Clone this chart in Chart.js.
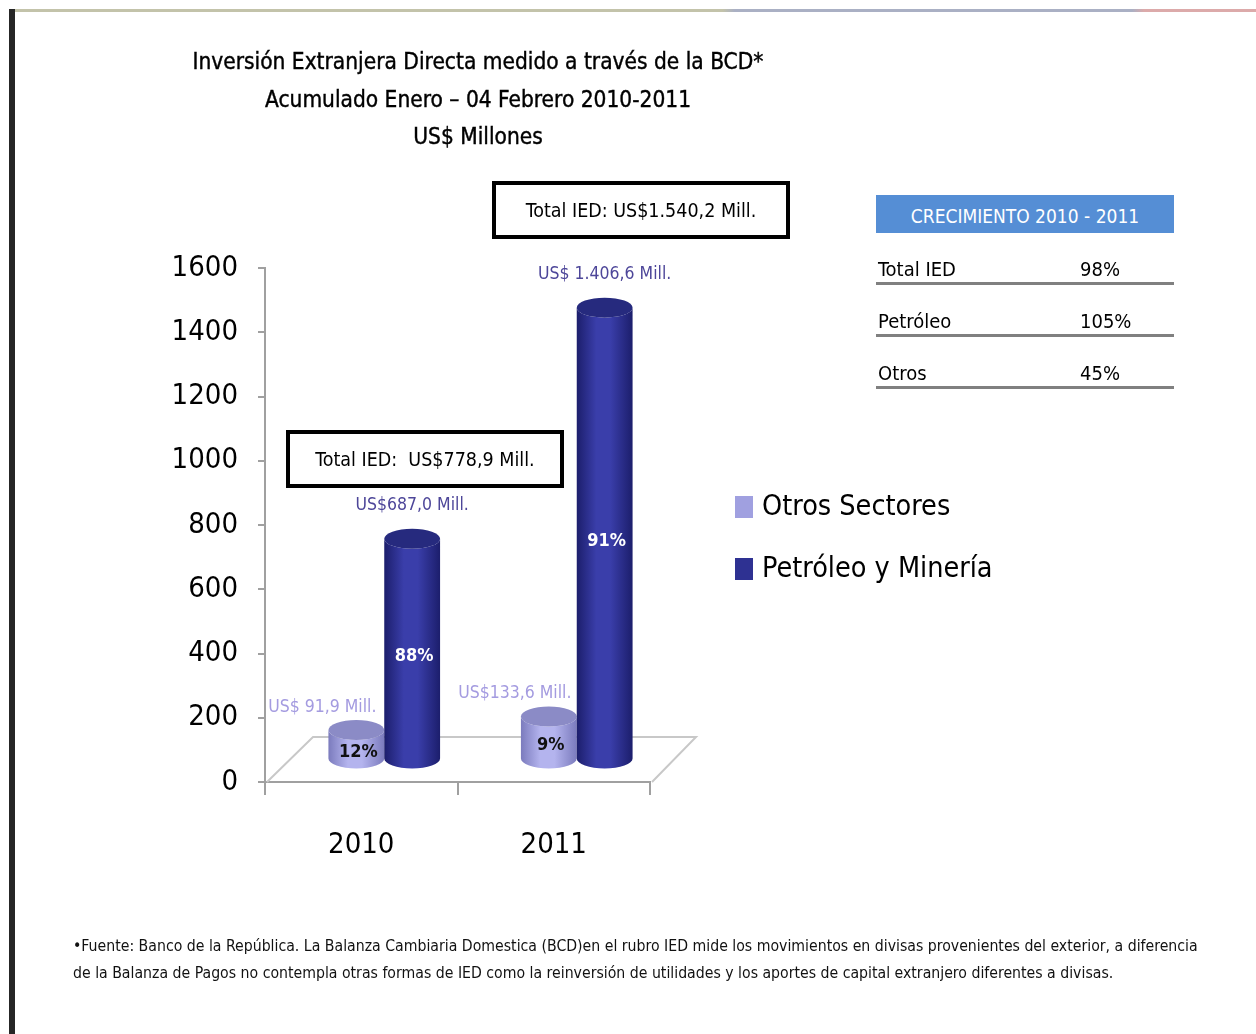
<!DOCTYPE html>
<html>
<head>
<meta charset="utf-8">
<script src="https://cdn.jsdelivr.net/npm/chart.js@4/dist/chart.umd.min.js"></script>
<style>
  body{margin:0;width:1256px;height:1034px;background:#fff;position:relative;overflow:hidden;
    font-family:"Liberation Sans Narrow","DejaVu Sans Condensed",sans-serif;color:#000}
  #topline{position:absolute;left:15px;top:9px;width:1241px;height:3px;
    background:linear-gradient(to right,#c3c3aa 0%,#c3c3aa 57%,#aab0c4 58%,#aab0c4 90%,#dcaaaa 91%,#dcaaaa 100%)}
  #leftbar{position:absolute;left:9px;top:9px;width:6px;height:1025px;background:#262626}
  #chart{position:absolute;left:0;top:0}
  .title{position:absolute;left:0;width:956px;text-align:center;font-size:22.5px;line-height:30px;-webkit-text-stroke:0.4px #000}
  .box{position:absolute;border:4px solid #000;box-sizing:border-box;text-align:center;font-size:19.5px}
  #growth{position:absolute;left:876px;top:195px;width:298px}
  #growth .head{background:#558ed5;color:#fff;height:38px;line-height:42px;text-align:center;font-size:19px}
  #growth .row{position:relative;height:52px;border-bottom:3px solid #808080;box-sizing:border-box;font-size:20px}
  #growth .row span{position:absolute;bottom:0;line-height:26px}
  .note{position:absolute;left:73px;font-size:15.7px;line-height:20px;color:#111;white-space:nowrap}
</style>
</head>
<body>
<div id="topline"></div>
<div id="leftbar"></div>
<canvas id="chart" width="1256" height="1034"></canvas>

<div class="title" style="top:46px">Inversión Extranjera Directa medido a través de la BCD*</div>
<div class="title" style="top:84px">Acumulado Enero – 04 Febrero 2010-2011</div>
<div class="title" style="top:121px">US$ Millones</div>

<div class="box" style="left:492px;top:181px;width:298px;height:58px;line-height:52px">Total IED: US$1.540,2 Mill.</div>
<div class="box" style="left:286px;top:430px;width:278px;height:58px;line-height:52px">Total IED:&nbsp; US$778,9 Mill.</div>

<div id="growth">
  <div class="head">CRECIMIENTO 2010 - 2011</div>
  <div class="row"><span style="left:2px">Total IED</span><span style="left:204px">98%</span></div>
  <div class="row"><span style="left:2px">Petróleo</span><span style="left:204px">105%</span></div>
  <div class="row"><span style="left:2px">Otros</span><span style="left:204px">45%</span></div>
</div>

<div class="note" style="top:936px">•Fuente: Banco de la República. La Balanza Cambiaria Domestica (BCD)en el rubro IED mide los movimientos en divisas provenientes del exterior, a diferencia</div>
<div class="note" style="top:963px">de la Balanza de Pagos no contempla otras formas de IED como la reinversión de utilidades y los aportes de capital extranjero diferentes a divisas.</div>

<script>
// data
const years = ['2010', '2011'];
const otros = [91.9, 133.6];
const petroleo = [687.0, 1406.6];
const otrosLabels = ['US$ 91,9 Mill.', 'US$133,6 Mill.'];
const petroleoLabels = ['US$687,0 Mill.', 'US$ 1.406,6 Mill.'];
const otrosPct = ['12%', '9%'];
const petroleoPct = ['88%', '91%'];
const yTicks = [0, 200, 400, 600, 800, 1000, 1200, 1400, 1600];

const FONT = '"Liberation Sans Narrow","DejaVu Sans Condensed",sans-serif';
const DEPTH_X = 46, DEPTH_Y = 45;

const styles = [
  {edge:'#7b7bbd', light:'#b4b4ee', top:'#8b8bc6', label:'#a49be0', pctColor:'#111', labelDx:-34, labelDy:-23, labels:otrosLabels, pct:otrosPct},
  {edge:'#1c1e6c', light:'#3a3eaa', top:'#262a7e', label:'#4d4699', pctColor:'#fff', labelDx:0, labelDy:-33, labels:petroleoLabels, pct:petroleoPct}
];

function cylinder(ctx, cx, topY, baseY, hw, ry, st){
  const g = ctx.createLinearGradient(cx-hw, 0, cx+hw, 0);
  g.addColorStop(0, st.edge);
  g.addColorStop(0.35, st.light);
  g.addColorStop(0.6, st.light);
  g.addColorStop(1, st.edge);
  ctx.beginPath();
  ctx.moveTo(cx-hw, topY);
  ctx.lineTo(cx-hw, baseY);
  ctx.ellipse(cx, baseY, hw, ry, 0, Math.PI, 0, true);
  ctx.lineTo(cx+hw, topY);
  ctx.ellipse(cx, topY, hw, ry, 0, 0, Math.PI, false);
  ctx.closePath();
  ctx.fillStyle = g;
  ctx.fill();
  ctx.beginPath();
  ctx.ellipse(cx, topY, hw, ry, 0, 0, Math.PI*2);
  ctx.fillStyle = st.top;
  ctx.fill();
}

const cylinders = {
  id:'cylinders',
  beforeDatasetsDraw(chart){
    const ctx = chart.ctx, a = chart.chartArea;
    // floor
    ctx.save();
    ctx.beginPath();
    ctx.moveTo(a.left+2, a.bottom);
    ctx.lineTo(a.left+2+DEPTH_X, a.bottom-DEPTH_Y);
    ctx.lineTo(a.right+DEPTH_X, a.bottom-DEPTH_Y);
    ctx.lineTo(a.right+2, a.bottom);
    ctx.strokeStyle = '#c8c8c8';
    ctx.lineWidth = 2;
    ctx.stroke();

    const dx = DEPTH_X/2, dy = DEPTH_Y/2;
    chart.data.datasets.forEach((ds, di) => {
      const st = styles[di];
      chart.getDatasetMeta(di).data.forEach((bar, i) => {
        const hw = bar.width/2;
        const cx = bar.x + dx;
        const topY = bar.y - dy;
        const baseY = bar.base - dy;
        cylinder(ctx, cx, topY, baseY, hw, 10, st);
        ctx.textAlign = 'center';
        ctx.textBaseline = 'middle';
        ctx.font = '17.5px ' + FONT;
        ctx.fillStyle = st.label;
        ctx.fillText(st.labels[i], cx + st.labelDx, topY + st.labelDy);
        ctx.font = 'bold 18px ' + FONT;
        ctx.fillStyle = st.pctColor;
        ctx.fillText(st.pct[i], cx + 2, (topY + baseY)/2 + 8);
      });
    });
    ctx.restore();
    return false;
  },
  afterDraw(chart){
    const ctx = chart.ctx;
    ctx.save();
    ctx.textAlign = 'left';
    ctx.textBaseline = 'middle';
    ctx.font = '28.5px ' + FONT;
    chart.data.datasets.forEach((ds, di) => {
      const y = 507 + di*62;
      ctx.fillStyle = ds.backgroundColor;
      ctx.fillRect(735, y-11, 18, 22);
      ctx.fillStyle = '#000';
      ctx.fillText(ds.label, 762, y+1);
    });
    ctx.restore();
  }
};

new Chart(document.getElementById('chart'), {
  type:'bar',
  data:{
    labels:years,
    datasets:[
      {label:'Otros Sectores', data:otros, backgroundColor:'#a0a0e0'},
      {label:'Petróleo y Minería', data:petroleo, backgroundColor:'#2e3192'}
    ]
  },
  options:{
    responsive:false,
    animation:false,
    layout:{padding:{left:160, right:606, top:268, bottom:162}},
    datasets:{bar:{barPercentage:1, categoryPercentage:0.58}},
    plugins:{legend:{display:false}, title:{display:false}, tooltip:{enabled:false}},
    scales:{
      x:{
        afterFit(s){ s.height = 90; },
        border:{color:'#a0a0a0', width:2},
        grid:{drawOnChartArea:false, tickLength:13, color:'#a0a0a0', lineWidth:2},
        ticks:{color:'#000', padding:33, font:{family:FONT, size:29}}
      },
      y:{
        min:0, max:1600,
        afterFit(s){ s.width = 105; },
        afterBuildTicks(s){ s.ticks = yTicks.map(v => ({value:v})); },
        border:{color:'#a0a0a0', width:2},
        grid:{drawOnChartArea:false, tickLength:7, color:'#a0a0a0', lineWidth:2},
        ticks:{color:'#000', padding:20, font:{family:FONT, size:29}, callback:v => String(v)}
      }
    }
  },
  plugins:[cylinders]
});
</script>
</body>
</html>
